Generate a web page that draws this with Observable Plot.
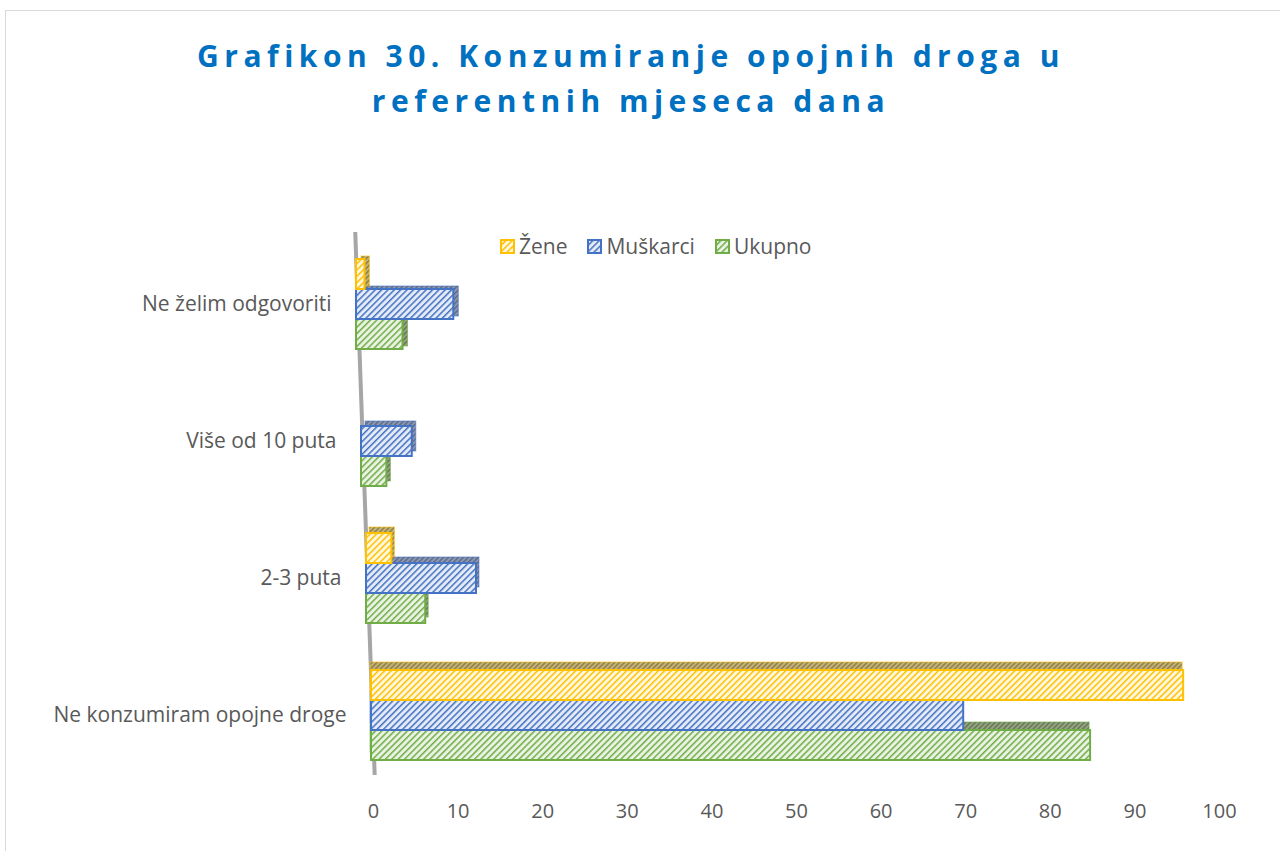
<!DOCTYPE html>
<html>
<head>
<meta charset="utf-8">
<script src="https://cdn.jsdelivr.net/npm/d3@7"></script>
<script src="https://cdn.jsdelivr.net/npm/@observablehq/plot@0.6"></script>
<style>
  html, body { margin: 0; padding: 0; background: #fff; }
  body { width: 1280px; height: 851px; position: relative; overflow: hidden; font-family: "Open Sans", sans-serif; }
  #frame { position: absolute; left: 5px; top: 10px; width: 1300px; height: 900px; border: 1.5px solid #d9d9d9; box-sizing: border-box; }
  #title { position: absolute; left: 0; top: 33px; width: 1262px; text-align: center; color: #0070C0; font-weight: 700; font-size: 30px; letter-spacing: 5.5px; line-height: 45px; }
  #legend { position: absolute; left: 500px; top: 232px; display: flex; align-items: center; font-size: 21px; color: #595959; }
  #legend .item { display: flex; align-items: center; margin-right: 20px; }
  #legend svg { margin-right: 4px; }
  #chart { position: absolute; left: 0; top: 0; }
</style>
</head>
<body>
<svg width="0" height="0" style="position:absolute">
  <defs id="defs"></defs>
</svg>
<div id="frame"></div>
<div id="title">Grafikon 30. Konzumiranje opojnih droga u<br>referentnih mjeseca dana</div>
<div id="legend"></div>
<div id="chart"></div>
<script>
const categories = ["Ne želim odgovoriti", "Više od 10 puta", "2-3 puta", "Ne konzumiram opojne droge"];
const series = ["Žene", "Muškarci", "Ukupno"];
const zene = [1, 0, 3, 96];
const muskarci = [11.5, 6, 13, 70];
const ukupno = [5.5, 3, 7, 85];
const xTicks = [0, 10, 20, 30, 40, 50, 60, 70, 80, 90, 100];

const colors = ["#FFC000", "#4472C4", "#70AD47"];
const tints = ["#FFF8E0", "#E4EBF7", "#EAF3E3"];
const depthBg = ["#c4b47c", "#8d97ae", "#95a486"];
const depthLine = ["#8f7f45", "#5d6b8c", "#65784f"];
// 3D perspective offsets per category row (pixels)
const shift = [-17, -12, -7, -2];
const depthDx = [5, 4, 3, -1];
const depthDy = [-3, -5, -6, -8];

// patterns
const defs = document.getElementById("defs");
const ns = "http://www.w3.org/2000/svg";
function makePattern(id, bg, line, w, size) {
  const p = document.createElementNS(ns, "pattern");
  p.setAttribute("id", id);
  p.setAttribute("patternUnits", "userSpaceOnUse");
  p.setAttribute("width", size);
  p.setAttribute("height", size);
  p.setAttribute("patternTransform", "rotate(45)");
  const r = document.createElementNS(ns, "rect");
  r.setAttribute("width", size); r.setAttribute("height", size); r.setAttribute("fill", bg);
  const l = document.createElementNS(ns, "rect");
  l.setAttribute("x", 0); l.setAttribute("y", 0); l.setAttribute("width", w); l.setAttribute("height", size); l.setAttribute("fill", line);
  p.appendChild(r); p.appendChild(l);
  defs.appendChild(p);
}
series.forEach((s, i) => {
  makePattern("front" + i, tints[i], colors[i], 1.5, 4.5);
  makePattern("depth" + i, depthBg[i], depthLine[i], 1.5, 3.5);
});

const values = [zene, muskarci, ukupno];
const rows = [];
series.forEach((s, i) => categories.forEach((c, j) => rows.push({category: c, ci: j, series: s, si: i, value: values[i][j]})));

const bw = 30;
const marks = [];
// slanted 3D axis wall line
marks.push((index, scales, vals, dims) => {
  const line = document.createElementNS(ns, "line");
  line.setAttribute("x1", scales.x(-2.1));
  line.setAttribute("x2", scales.x(0.2));
  line.setAttribute("y1", dims.marginTop - 8);
  line.setAttribute("y2", dims.height - dims.marginBottom - 5);
  line.setAttribute("stroke", "#a6a6a6");
  line.setAttribute("stroke-width", 4);
  return line;
});
// per category row; draw from bottom series (Ukupno) to top (Žene)
categories.forEach((c, j) => {
  marks.push(Plot.text([c], {x: () => 0, y: d => d, text: d => d, textAnchor: "end", dx: shift[j] - 25, fill: "#595959", fontSize: 21}));
  for (let i = 2; i >= 0; i--) {
    const d = rows.filter(r => r.si === i && r.ci === j && r.value > 0);
    if (!d.length) continue;
    const opts = {x: "value", y: "category", insetTop: i * bw, insetBottom: (2 - i) * bw};
    marks.push(Plot.barX(d, {...opts, fill: `url(#depth${i})`, stroke: colors[i], strokeOpacity: 0.6, strokeWidth: 1, dx: shift[j] + depthDx[j], dy: depthDy[j]}));
    marks.push(Plot.barX(d, {...opts, fill: `url(#front${i})`, stroke: colors[i], strokeWidth: 2, dx: shift[j]}));
  }
});

const chart = Plot.plot({
  width: 1280,
  height: 851,
  marginTop: 240,
  marginBottom: 71,
  marginLeft: 373,
  marginRight: 61,
  style: {fontFamily: "Open Sans, sans-serif", fontSize: "20px", color: "#595959", background: "transparent", overflow: "visible"},
  x: {domain: [0, 100], ticks: xTicks, tickSize: 0, tickPadding: 23, label: null},
  y: {domain: categories, paddingInner: 0.34, paddingOuter: 0.14, axis: null},
  marks
});
document.getElementById("chart").appendChild(chart);

// legend
const legend = document.getElementById("legend");
series.forEach((s, i) => {
  const item = document.createElement("div");
  item.className = "item";
  item.innerHTML = `<svg width="15" height="15"><rect x="1" y="1" width="13" height="13" fill="url(#front${i})" stroke="${colors[i]}" stroke-width="2"/></svg><span>${s}</span>`;
  legend.appendChild(item);
});
</script>
</body>
</html>
